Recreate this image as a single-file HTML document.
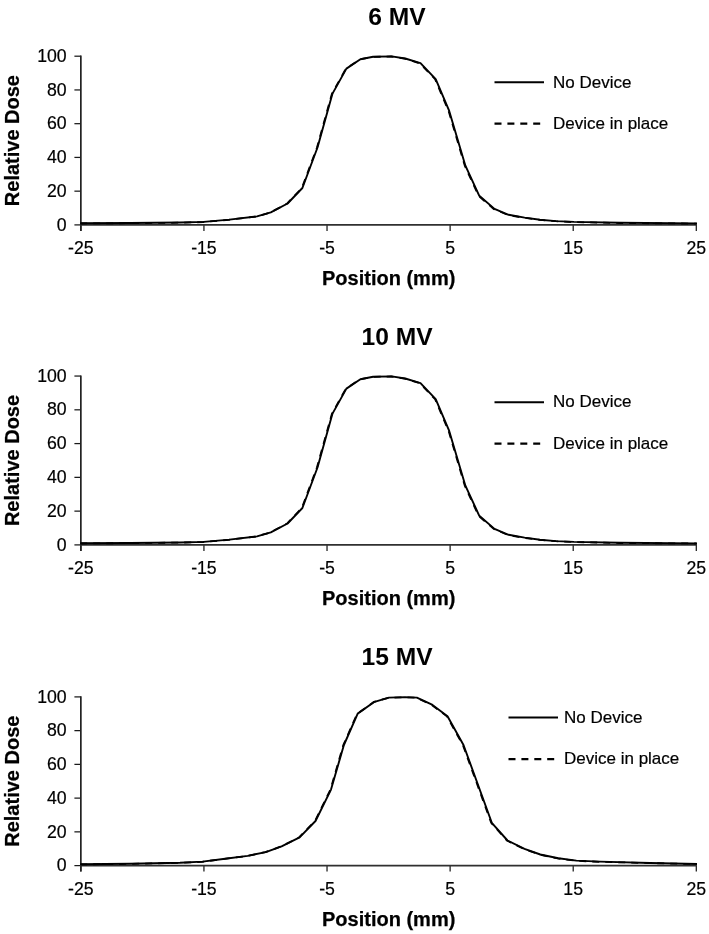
<!DOCTYPE html>
<html><head><meta charset="utf-8"><style>
html,body{margin:0;padding:0;background:#fff;}
svg{display:block;will-change:transform;}
text{font-family:"Liberation Sans",sans-serif;fill:#000;}
.t{font-weight:bold;font-size:24.6px;}
.ax{font-weight:bold;font-size:20px;stroke:#000;stroke-width:0.25px;}
.tk{font-size:17.7px;stroke:#000;stroke-width:0.2px;}
.lg{font-size:17px;stroke:#000;stroke-width:0.2px;}
</style></head><body>
<svg width="709" height="934" viewBox="0 0 709 934">
<rect width="709" height="934" fill="#fff"/>

<text class="t" x="397" y="24.6" text-anchor="middle">6 MV</text>
<text class="ax" transform="translate(19,140.6) rotate(-90)" text-anchor="middle">Relative Dose</text>
<text class="ax" x="388.7" y="285.0" text-anchor="middle">Position (mm)</text>
<line x1="74.4" x2="80.85" y1="224.90" y2="224.90" stroke="#1a1a1a" stroke-width="1.25"/>
<text class="tk" x="66.7" y="230.5" text-anchor="end">0</text>
<line x1="74.4" x2="80.85" y1="191.16" y2="191.16" stroke="#1a1a1a" stroke-width="1.25"/>
<text class="tk" x="66.7" y="196.8" text-anchor="end">20</text>
<line x1="74.4" x2="80.85" y1="157.42" y2="157.42" stroke="#1a1a1a" stroke-width="1.25"/>
<text class="tk" x="66.7" y="163.0" text-anchor="end">40</text>
<line x1="74.4" x2="80.85" y1="123.68" y2="123.68" stroke="#1a1a1a" stroke-width="1.25"/>
<text class="tk" x="66.7" y="129.3" text-anchor="end">60</text>
<line x1="74.4" x2="80.85" y1="89.94" y2="89.94" stroke="#1a1a1a" stroke-width="1.25"/>
<text class="tk" x="66.7" y="95.5" text-anchor="end">80</text>
<line x1="74.4" x2="80.85" y1="56.20" y2="56.20" stroke="#1a1a1a" stroke-width="1.25"/>
<text class="tk" x="66.7" y="61.8" text-anchor="end">100</text>
<line x1="80.85" x2="80.85" y1="224.9" y2="230.9" stroke="#1a1a1a" stroke-width="1.25"/>
<text class="tk" x="80.85" y="254.0" text-anchor="middle">-25</text>
<line x1="203.94" x2="203.94" y1="224.9" y2="230.9" stroke="#1a1a1a" stroke-width="1.25"/>
<text class="tk" x="203.94" y="254.0" text-anchor="middle">-15</text>
<line x1="327.03" x2="327.03" y1="224.9" y2="230.9" stroke="#1a1a1a" stroke-width="1.25"/>
<text class="tk" x="327.03" y="254.0" text-anchor="middle">-5</text>
<line x1="450.12" x2="450.12" y1="224.9" y2="230.9" stroke="#1a1a1a" stroke-width="1.25"/>
<text class="tk" x="450.12" y="254.0" text-anchor="middle">5</text>
<line x1="573.21" x2="573.21" y1="224.9" y2="230.9" stroke="#1a1a1a" stroke-width="1.25"/>
<text class="tk" x="573.21" y="254.0" text-anchor="middle">15</text>
<line x1="696.30" x2="696.30" y1="224.9" y2="230.9" stroke="#1a1a1a" stroke-width="1.25"/>
<text class="tk" x="696.30" y="254.0" text-anchor="middle">25</text>
<line x1="80.85" x2="80.85" y1="55.6" y2="230.9" stroke="#222" stroke-width="1.7"/>
<line x1="80.0" x2="696.9" y1="224.90" y2="224.90" stroke="#303030" stroke-width="1.7"/>
<polyline points="80.8,223.3 130.0,223.0 180.0,222.5 203.7,221.9 229.4,219.6 257.0,216.4 270.8,212.3 287.6,203.5 302.4,188.0 317.5,147.5 332.5,93.6 346.4,68.6 360.4,59.3 373.1,56.8 391.7,56.4 405.2,58.5 420.5,63.2 435.7,79.1 449.2,110.9 465.4,165.7 479.3,195.8 494.5,208.9 508.6,214.8 524.6,217.6 540.0,219.7 556.0,221.1 574.0,221.9 620.0,222.8 697.0,223.4" fill="none" stroke="#000" stroke-width="1.9" stroke-linejoin="round"/>
<polyline points="80.2,223.5 129.4,223.2 179.4,222.7 203.1,222.1 228.8,219.8 256.4,216.6 270.2,212.5 287.0,203.7 301.8,188.2 316.9,147.7 331.9,93.8 345.8,68.8 359.8,59.4 372.5,56.9 391.1,56.5 404.6,58.6 419.9,63.4 435.1,79.2 448.6,111.1 464.8,165.8 478.7,196.0 493.9,209.1 508.0,215.0 524.0,217.8 539.4,219.8 555.4,221.2 573.4,222.1 619.4,223.0 696.4,223.6" fill="none" stroke="#000" stroke-width="1.8" stroke-dasharray="7 6"/>
<line x1="494.5" x2="544.0" y1="82.3" y2="82.3" stroke="#000" stroke-width="2"/>
<text class="lg" x="553" y="87.5">No Device</text>
<line x1="494.5" x2="540.5" y1="123.7" y2="123.7" stroke="#000" stroke-width="2.2" stroke-dasharray="7 5.9"/>
<text class="lg" x="553" y="128.9">Device in place</text>
<text class="t" x="397" y="344.9" text-anchor="middle">10 MV</text>
<text class="ax" transform="translate(19,460.5) rotate(-90)" text-anchor="middle">Relative Dose</text>
<text class="ax" x="388.7" y="605.0" text-anchor="middle">Position (mm)</text>
<line x1="74.4" x2="80.85" y1="544.90" y2="544.90" stroke="#1a1a1a" stroke-width="1.25"/>
<text class="tk" x="66.7" y="550.5" text-anchor="end">0</text>
<line x1="74.4" x2="80.85" y1="511.13" y2="511.13" stroke="#1a1a1a" stroke-width="1.25"/>
<text class="tk" x="66.7" y="516.7" text-anchor="end">20</text>
<line x1="74.4" x2="80.85" y1="477.36" y2="477.36" stroke="#1a1a1a" stroke-width="1.25"/>
<text class="tk" x="66.7" y="483.0" text-anchor="end">40</text>
<line x1="74.4" x2="80.85" y1="443.59" y2="443.59" stroke="#1a1a1a" stroke-width="1.25"/>
<text class="tk" x="66.7" y="449.2" text-anchor="end">60</text>
<line x1="74.4" x2="80.85" y1="409.82" y2="409.82" stroke="#1a1a1a" stroke-width="1.25"/>
<text class="tk" x="66.7" y="415.4" text-anchor="end">80</text>
<line x1="74.4" x2="80.85" y1="376.05" y2="376.05" stroke="#1a1a1a" stroke-width="1.25"/>
<text class="tk" x="66.7" y="381.7" text-anchor="end">100</text>
<line x1="80.85" x2="80.85" y1="544.9" y2="550.9" stroke="#1a1a1a" stroke-width="1.25"/>
<text class="tk" x="80.85" y="574.0" text-anchor="middle">-25</text>
<line x1="203.94" x2="203.94" y1="544.9" y2="550.9" stroke="#1a1a1a" stroke-width="1.25"/>
<text class="tk" x="203.94" y="574.0" text-anchor="middle">-15</text>
<line x1="327.03" x2="327.03" y1="544.9" y2="550.9" stroke="#1a1a1a" stroke-width="1.25"/>
<text class="tk" x="327.03" y="574.0" text-anchor="middle">-5</text>
<line x1="450.12" x2="450.12" y1="544.9" y2="550.9" stroke="#1a1a1a" stroke-width="1.25"/>
<text class="tk" x="450.12" y="574.0" text-anchor="middle">5</text>
<line x1="573.21" x2="573.21" y1="544.9" y2="550.9" stroke="#1a1a1a" stroke-width="1.25"/>
<text class="tk" x="573.21" y="574.0" text-anchor="middle">15</text>
<line x1="696.30" x2="696.30" y1="544.9" y2="550.9" stroke="#1a1a1a" stroke-width="1.25"/>
<text class="tk" x="696.30" y="574.0" text-anchor="middle">25</text>
<line x1="80.85" x2="80.85" y1="375.4" y2="550.9" stroke="#222" stroke-width="1.7"/>
<line x1="80.0" x2="696.9" y1="544.90" y2="544.90" stroke="#303030" stroke-width="1.7"/>
<polyline points="80.8,543.3 130.0,543.0 180.0,542.5 203.7,541.9 229.4,539.6 257.0,536.4 270.8,532.3 287.6,523.5 302.4,508.0 317.5,467.5 332.5,413.6 346.4,388.6 360.4,379.3 373.1,376.8 391.7,376.4 405.2,378.5 420.5,383.2 435.7,399.1 449.2,430.9 465.4,485.7 479.3,515.8 494.5,528.9 508.6,534.8 524.6,537.6 540.0,539.7 556.0,541.1 574.0,541.9 620.0,542.8 697.0,543.4" fill="none" stroke="#000" stroke-width="1.9" stroke-linejoin="round"/>
<polyline points="80.2,543.5 129.4,543.1 179.4,542.6 203.1,542.0 228.8,539.8 256.4,536.5 270.2,532.5 287.0,523.6 301.8,508.1 316.9,467.6 331.9,413.8 345.8,388.8 359.8,379.4 372.5,376.9 391.1,376.5 404.6,378.6 419.9,383.3 435.1,399.2 448.6,431.0 464.8,485.8 478.7,516.0 493.9,529.0 508.0,535.0 524.0,537.8 539.4,539.8 555.4,541.2 573.4,542.0 619.4,543.0 696.4,543.5" fill="none" stroke="#000" stroke-width="1.8" stroke-dasharray="7 6"/>
<line x1="494.5" x2="544.0" y1="402.2" y2="402.2" stroke="#000" stroke-width="2"/>
<text class="lg" x="553" y="407.4">No Device</text>
<line x1="494.5" x2="540.5" y1="443.6" y2="443.6" stroke="#000" stroke-width="2.2" stroke-dasharray="7 5.9"/>
<text class="lg" x="553" y="448.8">Device in place</text>
<text class="t" x="397" y="665.1" text-anchor="middle">15 MV</text>
<text class="ax" transform="translate(19,781.2) rotate(-90)" text-anchor="middle">Relative Dose</text>
<text class="ax" x="388.7" y="925.7" text-anchor="middle">Position (mm)</text>
<line x1="74.4" x2="80.85" y1="865.60" y2="865.60" stroke="#1a1a1a" stroke-width="1.25"/>
<text class="tk" x="66.7" y="871.2" text-anchor="end">0</text>
<line x1="74.4" x2="80.85" y1="831.86" y2="831.86" stroke="#1a1a1a" stroke-width="1.25"/>
<text class="tk" x="66.7" y="837.5" text-anchor="end">20</text>
<line x1="74.4" x2="80.85" y1="798.12" y2="798.12" stroke="#1a1a1a" stroke-width="1.25"/>
<text class="tk" x="66.7" y="803.7" text-anchor="end">40</text>
<line x1="74.4" x2="80.85" y1="764.38" y2="764.38" stroke="#1a1a1a" stroke-width="1.25"/>
<text class="tk" x="66.7" y="770.0" text-anchor="end">60</text>
<line x1="74.4" x2="80.85" y1="730.64" y2="730.64" stroke="#1a1a1a" stroke-width="1.25"/>
<text class="tk" x="66.7" y="736.2" text-anchor="end">80</text>
<line x1="74.4" x2="80.85" y1="696.90" y2="696.90" stroke="#1a1a1a" stroke-width="1.25"/>
<text class="tk" x="66.7" y="702.5" text-anchor="end">100</text>
<line x1="80.85" x2="80.85" y1="865.6" y2="871.6" stroke="#1a1a1a" stroke-width="1.25"/>
<text class="tk" x="80.85" y="894.7" text-anchor="middle">-25</text>
<line x1="203.94" x2="203.94" y1="865.6" y2="871.6" stroke="#1a1a1a" stroke-width="1.25"/>
<text class="tk" x="203.94" y="894.7" text-anchor="middle">-15</text>
<line x1="327.03" x2="327.03" y1="865.6" y2="871.6" stroke="#1a1a1a" stroke-width="1.25"/>
<text class="tk" x="327.03" y="894.7" text-anchor="middle">-5</text>
<line x1="450.12" x2="450.12" y1="865.6" y2="871.6" stroke="#1a1a1a" stroke-width="1.25"/>
<text class="tk" x="450.12" y="894.7" text-anchor="middle">5</text>
<line x1="573.21" x2="573.21" y1="865.6" y2="871.6" stroke="#1a1a1a" stroke-width="1.25"/>
<text class="tk" x="573.21" y="894.7" text-anchor="middle">15</text>
<line x1="696.30" x2="696.30" y1="865.6" y2="871.6" stroke="#1a1a1a" stroke-width="1.25"/>
<text class="tk" x="696.30" y="894.7" text-anchor="middle">25</text>
<line x1="80.85" x2="80.85" y1="696.3" y2="871.6" stroke="#222" stroke-width="1.7"/>
<line x1="80.0" x2="696.9" y1="865.60" y2="865.60" stroke="#303030" stroke-width="1.7"/>
<polyline points="80.8,864.2 130.0,863.8 180.0,862.7 202.6,861.6 225.1,858.8 247.7,855.9 265.8,852.1 281.6,846.4 299.6,837.4 315.5,821.0 331.0,789.6 343.9,745.0 357.7,713.6 374.5,701.8 388.9,697.6 404.9,697.1 416.9,697.6 431.5,704.3 447.5,716.2 463.5,745.0 491.8,822.8 507.5,840.5 524.5,848.8 540.3,854.5 558.3,858.3 576.4,860.6 600.0,861.6 650.0,863.0 697.0,864.0" fill="none" stroke="#000" stroke-width="1.9" stroke-linejoin="round"/>
<polyline points="80.2,864.4 129.4,863.9 179.4,862.9 202.0,861.8 224.5,858.9 247.1,856.0 265.2,852.2 281.0,846.5 299.0,837.5 314.9,821.1 330.4,789.8 343.3,745.1 357.1,713.8 373.9,701.9 388.3,697.8 404.3,697.2 416.3,697.8 430.9,704.4 446.9,716.4 462.9,745.1 491.2,822.9 506.9,840.6 523.9,848.9 539.7,854.6 557.7,858.4 575.8,860.8 599.4,861.8 649.4,863.1 696.4,864.1" fill="none" stroke="#000" stroke-width="1.8" stroke-dasharray="7 6"/>
<line x1="508.5" x2="558.0" y1="717.5" y2="717.5" stroke="#000" stroke-width="2"/>
<text class="lg" x="564" y="722.7">No Device</text>
<line x1="508.5" x2="554.5" y1="759.2" y2="759.2" stroke="#000" stroke-width="2.2" stroke-dasharray="7 5.9"/>
<text class="lg" x="564" y="764.4">Device in place</text>
</svg>
</body></html>
